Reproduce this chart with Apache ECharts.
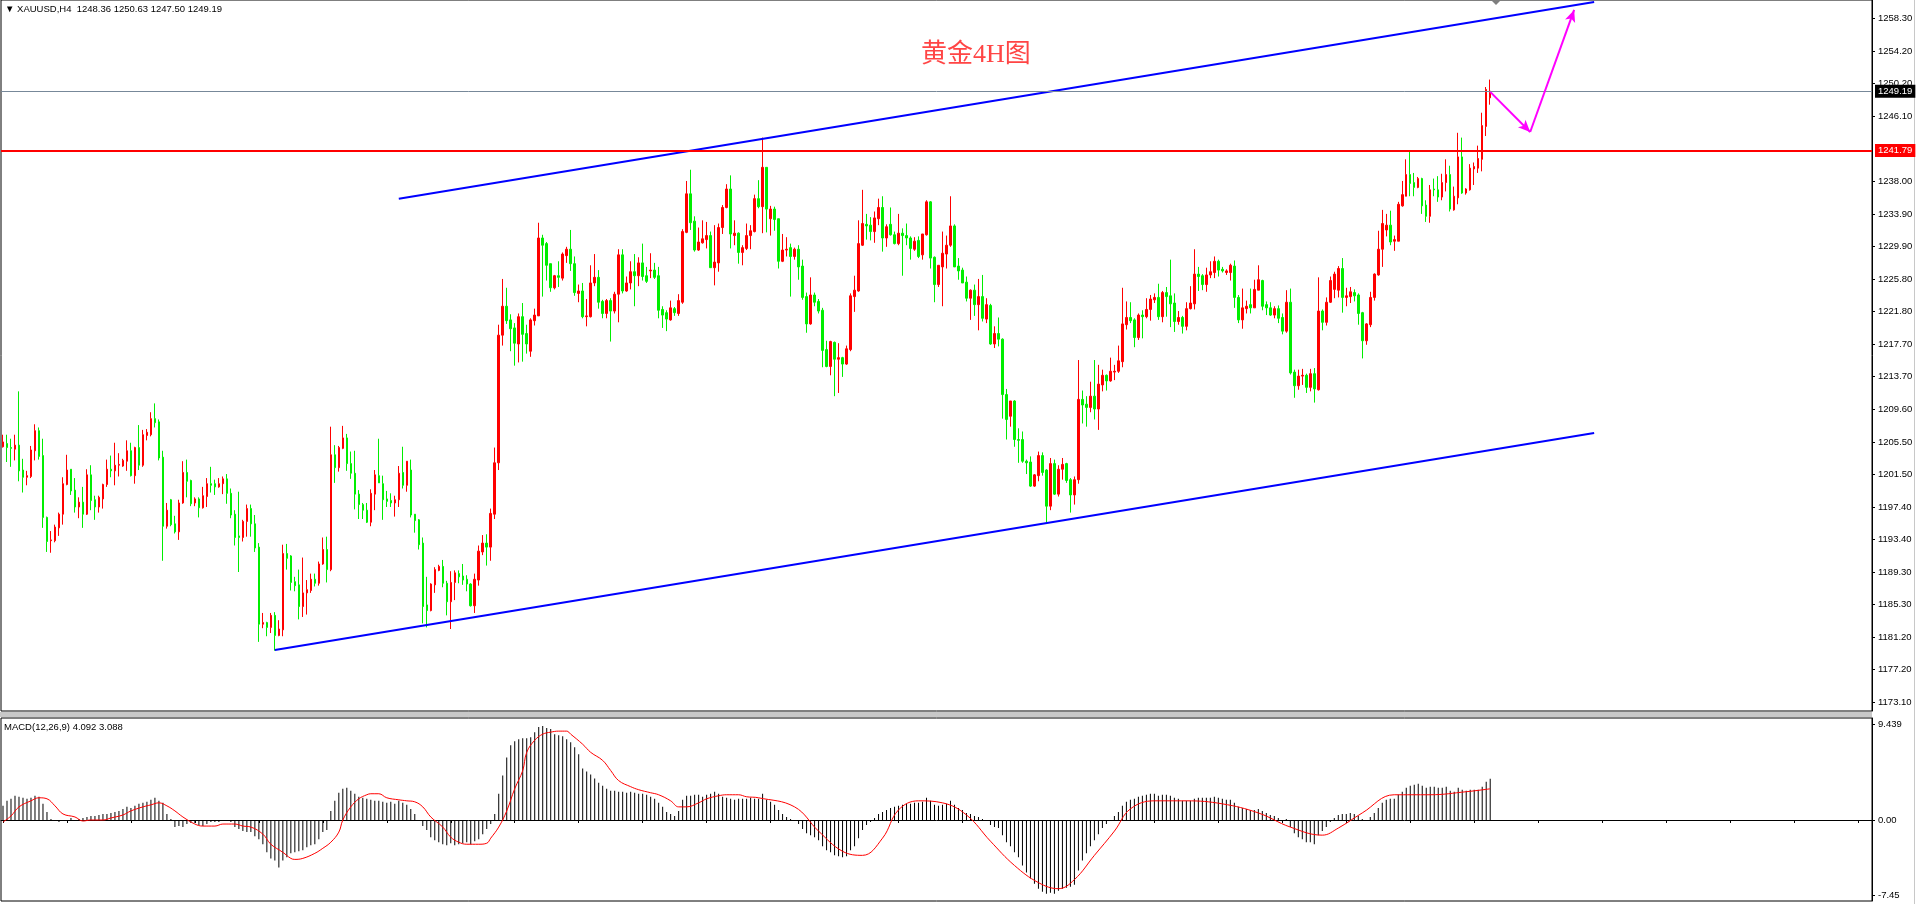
<!DOCTYPE html>
<html lang="zh">
<head>
<meta charset="UTF-8">
<title>黄金4H图</title>
<script src="https://cdn.jsdelivr.net/npm/echarts@6/dist/echarts.min.js"></script>
<style>
    html, body { margin: 0; padding: 0; background: #fff; }
    #main { width: 1917px; height: 904px; }
</style>
</head>
<body>
<div id="main"></div>
<script>
// XAUUSD H4 K线，每根 [开, 收, 低, 高]
var candles = [
[1204.9,1205.5,1204.8,1206.4],[1205.3,1204.8,1203.0,1206.4],[1204.8,1204.7,1202.4,1205.9],[1204.6,1205.1,1203.2,1206.4],[1205.1,1201.9,1200.6,1211.8],
[1202.0,1201.1,1199.2,1203.4],[1201.1,1201.3,1200.1,1201.9],[1201.2,1204.5,1201.0,1205.0],[1204.4,1206.9,1203.2,1207.7],[1206.9,1203.7,1203.3,1207.3],
[1203.8,1196.1,1194.8,1205.9],[1196.1,1193.1,1191.8,1196.2],[1193.2,1193.3,1191.7,1194.4],[1193.2,1194.9,1193.0,1195.2],[1194.8,1196.5,1193.8,1196.7],
[1196.5,1200.3,1195.2,1201.1],[1200.2,1202.0,1200.1,1203.9],[1202.1,1199.4,1198.9,1202.1],[1199.5,1197.4,1196.7,1201.0],[1197.4,1198.0,1196.0,1198.6],
[1198.0,1196.5,1194.8,1199.9],[1196.5,1201.4,1196.4,1202.1],[1201.4,1198.2,1197.0,1202.6],[1198.3,1197.4,1195.8,1198.8],[1197.4,1198.6,1196.7,1198.8],
[1198.4,1200.2,1197.2,1200.3],[1200.2,1202.1,1199.9,1203.3],[1202.1,1201.9,1201.1,1203.8],[1201.9,1202.6,1200.1,1205.4],[1202.6,1202.7,1201.2,1204.1],
[1202.5,1203.2,1202.4,1203.4],[1203.1,1204.4,1201.9,1205.7],[1204.4,1201.3,1201.2,1205.4],[1201.3,1204.8,1200.3,1204.9],[1204.8,1202.6,1202.0,1207.6],
[1202.6,1206.4,1202.4,1207.0],[1206.3,1206.7,1205.7,1207.1],[1206.4,1208.4,1206.2,1209.2],[1208.4,1207.9,1207.3,1210.3],[1208.0,1203.5,1203.2,1208.3],
[1203.6,1195.0,1190.7,1204.4],[1195.0,1197.0,1194.7,1197.9],[1198.3,1195.2,1195.0,1198.4],[1195.3,1194.3,1194.1,1196.3],[1194.3,1197.9,1193.3,1198.3],
[1197.9,1201.7,1197.8,1203.1],[1201.7,1200.6,1198.6,1203.3],[1200.7,1197.8,1197.5,1200.8],[1197.9,1198.4,1197.5,1198.6],[1198.4,1197.3,1196.1,1198.6],
[1197.3,1198.8,1197.2,1199.9],[1198.7,1200.3,1197.4,1201.0],[1200.3,1200.1,1199.2,1202.4],[1200.3,1199.9,1198.9,1200.8],[1199.9,1200.3,1199.8,1201.0],
[1200.3,1200.9,1199.0,1201.2],[1200.9,1199.1,1197.8,1201.5],[1199.1,1196.4,1196.0,1199.7],[1196.5,1193.6,1192.6,1197.0],[1193.8,1193.6,1189.3,1199.3],
[1193.6,1195.6,1193.1,1195.8],[1195.6,1197.2,1193.7,1197.7],[1197.2,1195.3,1193.7,1197.7],[1195.3,1192.3,1191.8,1196.4],[1192.4,1182.8,1180.6,1192.9],
[1182.8,1183.0,1182.3,1184.2],[1183.0,1182.4,1181.3,1183.1],[1182.4,1183.9,1181.7,1184.2],[1183.9,1181.4,1179.5,1184.3],[1181.4,1182.2,1181.3,1183.3],
[1182.1,1191.6,1181.3,1192.7],[1191.6,1191.0,1189.6,1192.8],[1191.3,1188.0,1187.0,1191.4],[1188.1,1187.6,1186.9,1188.7],[1187.7,1185.0,1183.4,1189.6],
[1185.0,1186.7,1183.7,1191.1],[1186.7,1187.1,1184.0,1188.3],[1187.0,1188.4,1186.7,1189.1],[1188.4,1187.9,1187.5,1189.1],[1187.9,1190.3,1187.6,1190.6],
[1190.3,1192.1,1190.2,1193.6],[1192.1,1189.6,1188.0,1193.7],[1189.6,1203.9,1189.4,1207.4],[1203.9,1202.3,1200.4,1205.1],[1202.3,1204.8,1201.8,1205.0],
[1204.7,1206.0,1204.6,1207.5],[1206.0,1202.8,1201.9,1206.5],[1202.8,1201.6,1200.9,1204.3],[1201.6,1199.0,1197.1,1204.4],[1199.0,1197.7,1195.9,1199.5],
[1197.7,1197.0,1195.9,1197.9],[1197.0,1195.5,1195.4,1197.9],[1195.5,1199.1,1195.0,1199.6],[1199.0,1201.4,1197.0,1202.0],[1201.3,1200.4,1200.4,1205.9],
[1200.3,1198.3,1195.8,1201.3],[1198.4,1198.1,1197.4,1199.4],[1198.2,1197.9,1197.4,1199.1],[1197.9,1198.3,1196.2,1198.8],[1198.3,1201.6,1197.4,1202.5],
[1201.7,1200.1,1199.7,1204.9],[1200.1,1203.1,1199.3,1203.1],[1202.0,1196.4,1196.1,1203.3],[1196.5,1195.7,1194.2,1196.5],[1195.8,1192.7,1192.1,1195.9],
[1192.9,1185.0,1182.9,1193.6],[1185.2,1184.5,1182.4,1188.7],[1184.5,1187.8,1184.4,1187.9],[1187.7,1189.6,1186.7,1189.9],[1189.5,1190.0,1189.4,1190.2],
[1190.0,1187.9,1187.4,1190.8],[1187.9,1185.6,1183.9,1188.2],[1185.6,1188.0,1182.2,1189.4],[1188.0,1189.2,1185.8,1189.5],[1189.1,1188.7,1187.9,1189.5],
[1188.8,1188.3,1187.7,1190.3],[1188.4,1187.8,1186.9,1188.9],[1187.8,1185.1,1185.0,1187.9],[1185.1,1188.4,1184.2,1189.1],[1188.3,1191.9,1187.6,1192.6],
[1191.8,1192.9,1191.4,1193.9],[1192.9,1192.4,1190.1,1194.0],[1192.4,1196.6,1190.7,1197.2],[1196.5,1202.9,1195.9,1204.8],[1202.9,1218.8,1202.0,1220.1],
[1218.8,1222.4,1217.5,1225.8],[1222.4,1220.6,1220.2,1224.7],[1220.7,1219.6,1216.8,1221.4],[1219.7,1217.8,1215.0,1220.3],[1217.7,1221.1,1215.4,1221.5],
[1221.1,1218.9,1215.5,1222.8],[1219.0,1217.7,1216.5,1220.1],[1216.8,1220.7,1216.1,1220.9],[1220.6,1221.3,1220.0,1222.1],[1221.2,1230.9,1221.2,1232.8],
[1230.9,1230.0,1223.6,1231.3],[1230.2,1227.5,1225.6,1230.4],[1227.7,1224.7,1224.2,1227.7],[1224.7,1226.2,1224.5,1226.3],[1226.2,1226.0,1224.8,1228.0],
[1225.9,1228.9,1225.6,1229.1],[1228.7,1229.5,1227.8,1229.8],[1229.5,1227.7,1226.8,1231.9],[1227.7,1224.1,1223.7,1228.6],[1224.0,1224.3,1222.9,1225.1],
[1224.3,1221.1,1220.9,1225.3],[1221.1,1221.2,1219.9,1223.3],[1221.1,1225.3,1221.0,1227.5],[1225.3,1226.0,1224.9,1228.9],[1226.0,1222.9,1222.1,1226.9],
[1223.0,1221.5,1220.9,1223.2],[1221.5,1223.1,1220.9,1223.3],[1223.1,1221.8,1218.0,1223.4],[1221.8,1223.9,1221.5,1224.2],[1223.9,1228.8,1220.4,1229.5],
[1228.8,1224.3,1224.0,1229.5],[1224.3,1225.3,1224.2,1226.1],[1225.3,1226.7,1224.5,1228.0],[1226.7,1226.2,1222.4,1228.9],[1226.2,1227.8,1224.9,1228.5],
[1227.8,1226.1,1225.6,1230.2],[1226.2,1225.5,1225.3,1227.3],[1226.8,1226.9,1225.9,1229.0],[1226.9,1226.0,1225.8,1227.8],[1226.2,1221.9,1220.9,1227.3],
[1222.0,1221.3,1219.7,1222.4],[1221.6,1220.8,1219.3,1221.9],[1220.7,1222.2,1220.6,1223.1],[1222.1,1221.6,1221.2,1222.3],[1221.5,1223.1,1221.2,1223.9],
[1222.9,1231.7,1222.7,1232.0],[1231.6,1236.4,1231.5,1238.0],[1236.4,1232.8,1231.9,1239.4],[1233.0,1229.4,1229.2,1233.6],[1229.4,1230.4,1229.3,1232.2],
[1230.3,1230.8,1230.2,1233.1],[1230.7,1231.2,1229.6,1232.9],[1231.2,1227.2,1227.2,1231.7],[1227.2,1227.9,1225.0,1232.5],[1227.8,1232.2,1226.7,1232.7],
[1232.2,1234.7,1231.4,1235.0],[1234.7,1237.0,1234.6,1237.6],[1237.0,1231.4,1229.6,1238.7],[1231.2,1231.5,1230.0,1233.1],[1231.5,1229.1,1227.7,1231.6],
[1229.1,1229.7,1227.5,1230.0],[1229.6,1231.2,1229.4,1232.7],[1231.2,1231.8,1229.5,1232.5],[1231.7,1235.8,1231.6,1236.3],[1235.8,1234.8,1234.6,1238.1],
[1234.8,1239.7,1231.5,1243.4],[1239.7,1234.5,1231.6,1239.7],[1233.3,1234.5,1231.2,1234.9],[1234.5,1233.2,1231.8,1234.8],[1233.3,1228.0,1227.1,1233.3],
[1228.0,1229.4,1227.9,1231.4],[1229.4,1229.5,1228.6,1231.0],[1229.7,1228.6,1223.6,1230.2],[1228.6,1229.5,1228.2,1229.7],[1229.5,1227.3,1225.7,1230.0],
[1227.4,1223.5,1223.2,1228.2],[1223.6,1220.2,1219.1,1224.1],[1220.2,1223.8,1220.1,1226.0],[1223.8,1222.9,1222.4,1224.1],[1223.0,1221.8,1221.5,1223.3],
[1221.9,1216.9,1214.8,1222.2],[1217.0,1214.9,1214.8,1218.1],[1214.9,1218.0,1213.8,1218.1],[1217.9,1215.8,1211.2,1218.0],[1215.8,1216.0,1211.6,1217.8],
[1216.0,1215.2,1213.6,1216.1],[1215.2,1217.1,1215.1,1217.5],[1217.0,1223.7,1216.8,1224.0],[1223.6,1224.4,1221.7,1226.2],[1224.3,1230.2,1224.2,1233.1],
[1230.0,1232.7,1229.9,1236.9],[1232.6,1232.4,1230.7,1233.9],[1232.5,1231.7,1230.6,1233.5],[1231.7,1233.4,1230.3,1234.2],[1233.3,1234.7,1232.5,1235.8],
[1234.7,1230.9,1229.2,1236.1],[1230.9,1232.3,1229.8,1232.6],[1232.6,1231.3,1231.2,1234.7],[1231.3,1230.2,1230.1,1231.7],[1230.2,1231.5,1230.0,1233.9],
[1231.5,1231.2,1226.2,1232.1],[1231.2,1230.9,1230.0,1232.7],[1230.9,1229.6,1228.2,1231.1],[1229.5,1230.5,1229.3,1231.0],[1230.6,1228.6,1228.4,1231.1],
[1228.8,1231.4,1228.2,1231.4],[1231.3,1235.4,1231.2,1235.6],[1235.4,1228.4,1227.1,1235.5],[1228.5,1225.1,1222.9,1228.6],[1225.1,1227.5,1224.8,1227.5],
[1227.3,1229.0,1222.4,1231.7],[1228.9,1230.0,1227.1,1231.2],[1230.0,1232.4,1229.8,1236.1],[1232.4,1227.3,1227.3,1232.6],[1227.4,1226.8,1225.7,1228.4],
[1226.9,1225.3,1225.3,1227.2],[1225.4,1223.4,1223.0,1226.1],[1223.4,1224.4,1220.7,1224.5],[1224.4,1222.6,1221.2,1225.1],[1222.6,1223.6,1219.4,1225.8],
[1223.6,1220.9,1220.5,1226.3],[1220.8,1222.6,1220.3,1223.4],[1222.5,1217.7,1217.6,1222.7],[1217.7,1219.0,1217.2,1219.9],[1219.0,1218.3,1217.4,1221.0],
[1218.3,1211.4,1208.4,1218.4],[1211.4,1208.3,1205.8,1212.1],[1208.7,1210.6,1207.4,1210.6],[1210.6,1205.8,1204.9,1210.7],[1205.8,1205.7,1202.9,1207.2],
[1205.8,1203.1,1202.9,1206.8],[1203.1,1202.9,1201.5,1203.3],[1203.0,1200.0,1199.9,1203.7],[1200.0,1201.4,1199.9,1201.5],[1201.3,1203.8,1200.6,1204.3],
[1203.8,1201.7,1201.3,1204.2],[1202.0,1197.5,1195.4,1202.1],[1197.5,1202.8,1197.0,1203.5],[1202.8,1199.0,1198.9,1203.3],[1199.0,1202.1,1198.7,1202.6],
[1202.1,1202.7,1200.8,1203.5],[1202.8,1200.7,1200.4,1202.9],[1200.8,1198.9,1196.7,1201.0],[1198.9,1200.8,1197.7,1201.2],[1200.8,1210.8,1200.3,1215.7],
[1210.8,1210.1,1207.8,1211.9],[1210.2,1209.8,1207.4,1211.2],[1209.8,1211.2,1209.2,1213.0],[1211.2,1209.6,1208.3,1215.7],[1209.6,1212.7,1207.0,1215.1],
[1212.6,1213.8,1211.8,1214.5],[1213.8,1213.1,1211.9,1213.9],[1213.1,1214.3,1213.0,1216.0],[1214.2,1214.3,1213.2,1215.1],[1214.3,1215.6,1214.1,1217.5],
[1215.5,1220.2,1214.8,1224.7],[1220.1,1221.0,1219.5,1223.0],[1221.0,1220.6,1220.3,1222.9],[1220.7,1218.5,1217.3,1220.9],[1218.5,1221.3,1218.2,1221.5],
[1221.3,1221.1,1218.4,1221.9],[1221.1,1222.0,1220.9,1223.4],[1222.0,1223.3,1220.6,1223.8],[1223.2,1223.5,1222.8,1224.0],[1223.5,1221.1,1220.7,1225.2],
[1221.1,1224.1,1220.4,1224.3],[1224.1,1223.6,1221.1,1224.8],[1223.7,1222.7,1219.8,1228.2],[1222.8,1220.5,1219.2,1224.0],[1220.5,1221.0,1220.1,1221.8],
[1221.0,1219.9,1219.0,1221.2],[1219.9,1222.1,1219.4,1222.9],[1222.1,1222.8,1222.0,1224.9],[1222.7,1226.4,1222.0,1229.5],[1226.4,1226.1,1224.3,1227.3],
[1226.2,1225.1,1224.4,1226.4],[1225.1,1226.3,1224.2,1227.2],[1226.3,1226.7,1225.9,1228.0],[1226.6,1228.0,1225.9,1228.6],[1228.0,1226.9,1226.1,1228.2],
[1227.0,1226.8,1226.6,1227.3],[1226.6,1226.8,1226.3,1227.0],[1226.6,1227.5,1225.6,1227.7],[1227.4,1223.5,1222.2,1228.1],[1223.5,1220.7,1220.3,1223.8],
[1220.7,1222.2,1219.6,1224.6],[1222.1,1222.4,1221.5,1223.1],[1222.6,1222.2,1221.5,1224.6],[1222.2,1224.5,1222.2,1225.7],[1224.4,1225.7,1224.4,1227.5],
[1225.6,1222.4,1221.9,1225.7],[1222.6,1222.2,1221.3,1223.0],[1222.2,1221.3,1221.2,1222.9],[1221.3,1222.1,1220.9,1222.4],[1222.1,1220.9,1220.3,1222.5],
[1221.0,1219.3,1218.9,1221.5],[1219.3,1222.9,1219.1,1224.4],[1222.9,1214.1,1213.9,1224.6],[1214.2,1212.5,1211.0,1214.5],[1212.5,1213.7,1212.0,1214.5],
[1213.7,1213.8,1212.6,1214.6],[1213.8,1212.3,1211.6,1214.0],[1212.3,1214.0,1211.8,1214.6],[1214.0,1212.1,1210.4,1214.7],[1212.0,1221.8,1211.9,1226.0],
[1221.8,1220.4,1219.4,1222.0],[1220.4,1222.9,1220.0,1223.5],[1222.9,1225.6,1222.8,1226.1],[1224.5,1226.4,1223.4,1226.7],[1224.4,1227.1,1223.5,1227.4],
[1227.1,1223.5,1221.6,1228.4],[1223.5,1223.7,1222.4,1224.7],[1223.6,1224.2,1222.8,1224.8],[1224.1,1223.7,1223.0,1224.5],[1223.8,1221.5,1220.1,1224.0],
[1221.6,1218.1,1215.9,1221.7],[1218.1,1220.2,1217.6,1220.3],[1220.1,1223.5,1219.8,1224.2],[1223.5,1226.4,1223.1,1226.5],[1226.3,1229.5,1226.2,1231.8],
[1229.5,1232.7,1227.3,1234.4],[1231.9,1232.5,1231.1,1233.9],[1232.5,1230.4,1230.0,1234.3],[1230.5,1230.7,1229.3,1231.2],[1230.5,1235.1,1230.5,1235.4],
[1234.9,1236.3,1234.8,1238.0],[1236.1,1238.8,1236.1,1240.7],[1238.8,1237.7,1236.1,1241.7],[1237.8,1237.2,1236.1,1239.0],[1237.2,1238.3,1237.1,1238.5],
[1238.3,1234.9,1233.9,1238.4],[1235.0,1233.6,1232.9,1235.6],[1233.6,1236.9,1232.8,1237.5],[1237.0,1236.9,1236.1,1238.3],[1236.9,1236.0,1235.4,1238.6],
[1236.0,1237.8,1235.6,1238.9],[1237.8,1238.8,1236.7,1240.7],[1238.8,1234.5,1234.2,1239.9],[1234.4,1236.1,1234.3,1237.3],[1235.9,1241.0,1235.1,1244.0],
[1241.0,1236.5,1236.4,1243.4],[1236.5,1237.0,1236.3,1237.1],[1236.9,1239.6,1236.8,1240.1],[1239.5,1239.8,1237.5,1240.3],[1239.6,1240.8,1239.0,1242.4],
[1240.7,1244.9,1239.2,1246.5],[1244.8,1249.4,1243.6,1249.7],[1248.36,1249.19,1247.50,1250.63]
];

// MACD(12,26,9) 柱（主线）
var macdBars = [
1.4,1.9,2.1,2.4,2.3,2.2,2.1,2.2,2.4,2.3, 1.6,0.8,0.1,-0.1,-0.2,-0.1,0.0,0.2,0.0,0.1,
0.2,0.3,0.4,0.4,0.5,0.6,0.6,0.7,0.8,0.9, 1.1,1.3,1.2,1.4,1.6,1.7,1.8,2.0,2.2,1.9,
1.7,0.6,0.1,-0.7,-0.6,-0.7,-0.4,-0.3,-0.3,-0.5, -0.6,-0.4,-0.2,-0.2,-0.2,-0.1,-0.1,-0.2,-0.7,-0.9,
-1.1,-1.2,-1.2,-1.6,-1.9,-2.4,-3.2,-3.8,-4.0,-4.7, -4.0,-3.7,-3.3,-3.2,-3.1,-3.0,-2.7,-2.5,-2.4,-1.9,
-1.2,-1.0,0.9,1.9,2.7,3.1,3.2,2.9,2.6,2.3, 2.2,2.1,2.0,1.9,1.9,1.8,1.7,1.8,1.6,1.9,
1.7,1.5,1.1,0.6,0.0,-0.6,-1.0,-1.7,-2.0,-2.2, -2.4,-2.5,-2.3,-2.5,-2.4,-2.3,-2.2,-2.4,-2.1,-1.9,
-1.4,-0.9,-0.4,0.6,2.6,4.4,6.2,7.4,7.8,8.0, 8.1,8.1,8.2,8.7,9.2,9.3,9.1,9.0,8.5,8.4,
8.3,8.0,7.7,7.2,6.5,5.1,4.8,4.5,4.1,3.7, 3.4,3.1,2.9,2.9,2.8,2.8,2.7,2.8,2.7,2.6,
2.6,2.5,2.3,2.1,1.7,1.3,0.8,0.6,0.4,0.9, 2.0,2.4,2.4,2.5,2.5,2.3,2.5,2.6,2.8,2.6,
2.3,2.2,2.1,2.0,2.1,2.1,2.1,2.2,2.1,2.1, 2.6,2.0,1.8,1.5,1.0,0.6,0.3,0.1,-0.1,-0.4,
-0.9,-1.3,-1.5,-1.7,-2.0,-2.6,-3.0,-3.2,-3.5,-3.6, -3.7,-3.6,-3.0,-2.6,-1.8,-1.0,-0.5,-0.2,0.2,0.6,
0.8,1.0,1.2,1.3,1.4,1.5,1.6,1.6,1.7,1.7, 1.8,2.2,1.9,1.5,1.4,1.5,1.6,1.9,1.5,1.2,
1.0,0.7,0.6,0.4,0.3,0.1,-0.1,-0.5,-0.7,-0.8, -1.5,-2.2,-2.6,-3.2,-3.7,-4.5,-5.2,-5.8,-6.3,-6.8,
-7.1,-7.3,-7.2,-7.3,-7.0,-6.8,-6.7,-6.6,-6.4,-5.0, -4.0,-3.3,-2.6,-2.0,-1.4,-0.8,-0.4,0.0,0.4,0.8,
1.4,1.8,2.0,2.1,2.3,2.4,2.5,2.6,2.6,2.4, 2.5,2.5,2.4,2.2,2.1,1.9,1.9,1.9,2.1,2.2,
2.2,2.2,2.2,2.3,2.2,2.1,2.0,2.0,1.7,1.3, 1.2,1.1,1.0,1.0,1.1,0.9,0.7,0.5,0.4,0.2,
0.0,0.1,-0.7,-1.3,-1.7,-1.9,-2.2,-2.2,-2.4,-1.5, -1.1,-0.7,-0.2,0.2,0.5,0.6,0.6,0.7,0.6,0.4,
0.1,0.0,0.3,0.7,1.2,1.7,2.0,2.1,2.1,2.5, 2.8,3.2,3.4,3.5,3.6,3.4,3.2,3.3,3.3,3.2,
3.2,3.3,2.9,2.8,3.2,3.0,2.9,3.0,3.0,3.0, 3.3,3.8,4.092
];

// 信号线 [K线序号, 值]
var signalPts = [
[0,-0.2],[2,0.4],[4,1.3],[7,1.9],[9,2.2],[11,2.1],[13,1.4],[15,0.6],[18,0.3],[20,-0.1],
[22,0.0],[25,0.0],[27,0.2],[30,0.5],[32,0.9],[35,1.3],[37,1.5],[39,1.7],[41,1.4],[43,0.9],
[45,0.3],[48,-0.4],[50,-0.6],[53,-0.6],[55,-0.4],[58,-0.4],[60,-0.6],[62,-0.7],[65,-1.4],[67,-2.4],
[70,-3.2],[72,-3.8],[73,-3.9],[75,-3.8],[78,-3.3],[80,-2.8],[82,-2.2],[84,-1.2],[85,0.0],[87,1.3],
[89,2.1],[91,2.5],[92,2.6],[94,2.6],[96,2.2],[99,2.0],[101,1.9],[103,1.8],[105,1.3],[107,0.3],
[110,-0.7],[112,-1.7],[114,-2.2],[116,-2.4],[119,-2.4],[121,-2.3],[122,-1.8],[124,-0.7],[126,0.9],[128,3.1],
[130,4.9],[131,6.7],[133,7.9],[135,8.5],[137,8.7],[139,8.8],[141,8.8],[142,8.5],[145,7.5],[147,6.7],
[150,5.9],[152,4.9],[154,3.9],[157,3.3],[159,3.0],[162,2.7],[164,2.5],[167,1.9],[169,1.3],[171,1.3],
[174,1.7],[176,2.1],[179,2.4],[181,2.5],[184,2.5],[186,2.3],[189,2.2],[198,1.3],[204,-1.1],[210,-3.1],
[215,-3.5],[220,-1.8],[224,1.0],[229,1.9],[235,1.7],[241,0.5],[247,-2.1],[253,-4.5],[259,-6.2],[264,-6.8],
[268,-5.9],[273,-3.5],[278,-1.1],[282,1.1],[288,1.9],[296,1.9],[305,1.6],[314,0.7],[322,-0.7],[330,-1.5],
[334,-0.8],[340,0.7],[348,2.5],[357,2.5],[366,2.8],[372,3.088]
];

var priceTicks = [1258.30,1254.20,1250.20,1246.10,1238.00,1233.90,1229.90,1225.80,1221.80,1217.70,
    1213.70,1209.60,1205.50,1201.50,1197.40,1193.40,1189.30,1185.30,1181.20,1177.20,1173.10];
var macdTicks = [9.439, 0, -7.45];
var macdTickText = ['9.439', '0.00', '-7.45'];

// 通道线、箭头（K线序号, 价格）
var upperChannel = [[99, 1235.8], [398, 1260.3]];
var lowerChannel = [[68, 1179.6], [398, 1206.6]];
var arrowPath = [[372, 1249.1], [382, 1244.1], [393, 1259.3]];
var lastPrice = 1249.19;
var resistance = 1241.79;

var slots = 468;   // 右侧留白，共 468 个位置
var cats = [];
for (var i = 0; i < slots; i++) cats.push(String(i));

var chart = echarts.init(document.getElementById('main'));

var labelFont = { fontFamily: 'Liberation Sans, Arial, sans-serif', fontSize: 9.5, color: '#000' };

var option = {
    backgroundColor: '#fff',
    animation: false,
    grid: [
        { left: 1, top: 0, width: 1871, height: 711, show: true, borderColor: '#000', borderWidth: 1, backgroundColor: '#fff' },
        { left: 1, top: 718, width: 1871, height: 183, show: true, borderColor: '#000', borderWidth: 1, backgroundColor: '#fff' }
    ],
    xAxis: [
        { type: 'category', gridIndex: 0, data: cats, boundaryGap: true,
          axisLine: { show: false }, axisTick: { show: false }, axisLabel: { show: false }, splitLine: { show: false } },
        { type: 'category', gridIndex: 1, data: cats, boundaryGap: true,
          axisLine: { show: true, lineStyle: { color: '#000' } },
          axisTick: { show: true, interval: 15, alignWithLabel: true, length: 3, lineStyle: { color: '#000' } },
          axisLabel: { show: false }, splitLine: { show: false } }
    ],
    yAxis: [
        { type: 'value', gridIndex: 0, position: 'right', min: 1171.99, max: 1260.54, scale: true,
          axisLine: { show: true, lineStyle: { color: '#000' } },
          axisTick: { show: true, length: 3, customValues: priceTicks, lineStyle: { color: '#000' } },
          axisLabel: Object.assign({ show: true, margin: 6, customValues: priceTicks,
              formatter: function (v) { return v.toFixed(2); } }, labelFont),
          splitLine: { show: false } },
        { type: 'value', gridIndex: 1, position: 'right', min: -8.02, max: 10.1,
          axisLine: { show: true, lineStyle: { color: '#000' } },
          axisTick: { show: true, length: 3, customValues: macdTicks, lineStyle: { color: '#000' } },
          axisLabel: Object.assign({ show: true, margin: 6, customValues: macdTicks,
              formatter: function (v) {
                  var k = macdTicks.indexOf(v);
                  return k >= 0 ? macdTickText[k] : '';
              } }, labelFont),
          splitLine: { show: false } }
    ],
    series: [
        {
            name: 'XAUUSD', type: 'candlestick', xAxisIndex: 0, yAxisIndex: 0,
            data: candles, barWidth: 2,
            itemStyle: {
                color: '#ff0000', color0: '#00ee00',
                borderColor: '#ff0000', borderColor0: '#00ee00',
                borderColorDoji: '#ff0000', borderWidth: 1
            },
            markLine: {
                silent: true, symbol: 'none', animation: false,
                data: [
                    { yAxis: lastPrice,
                      lineStyle: { color: '#778899', width: 1, type: 'solid' },
                      label: { show: true, position: 'end', distance: 3, formatter: lastPrice.toFixed(2),
                               backgroundColor: '#000', color: '#fff', padding: [2, 3, 1, 3],
                               fontFamily: 'Liberation Sans, Arial, sans-serif', fontSize: 9.5 } },
                    { yAxis: resistance,
                      lineStyle: { color: '#ff0000', width: 2, type: 'solid' },
                      label: { show: true, position: 'end', distance: 3, formatter: resistance.toFixed(2),
                               backgroundColor: '#ff0000', color: '#fff', padding: [2, 3, 1, 3],
                               fontFamily: 'Liberation Sans, Arial, sans-serif', fontSize: 9.5 } }
                ]
            },
            z: 3
        },
        {
            name: '上轨', type: 'line', xAxisIndex: 0, yAxisIndex: 0, data: upperChannel,
            symbol: 'none', lineStyle: { color: '#0000ff', width: 2 }, silent: true, z: 4
        },
        {
            name: '下轨', type: 'line', xAxisIndex: 0, yAxisIndex: 0, data: lowerChannel,
            symbol: 'none', lineStyle: { color: '#0000ff', width: 2 }, silent: true, z: 4
        },
        {
            name: '箭头', type: 'line', xAxisIndex: 0, yAxisIndex: 0, data: [],
            markLine: {
                silent: true, animation: false,
                symbol: ['none', 'arrow'], symbolSize: [8, 12],
                lineStyle: { color: '#ff00ff', width: 2, type: 'solid' },
                label: { show: false },
                data: [
                    [{ coord: arrowPath[0] }, { coord: arrowPath[1] }],
                    [{ coord: arrowPath[1] }, { coord: arrowPath[2] }]
                ]
            },
            z: 5
        },
        {
            name: 'MACD', type: 'bar', xAxisIndex: 1, yAxisIndex: 1, data: macdBars,
            barWidth: 1, itemStyle: { color: '#000' }, silent: true
        },
        {
            name: 'Signal', type: 'line', xAxisIndex: 1, yAxisIndex: 1, data: signalPts,
            smooth: 0.4, symbol: 'none', lineStyle: { color: '#ff0000', width: 1 }, silent: true, z: 4
        }
    ],
    graphic: [
        { type: 'rect', left: 0, top: 712, shape: { width: 1872, height: 5 }, style: { fill: '#c8c8c8' }, silent: true },
        { type: 'rect', left: 1914, top: 0, shape: { width: 1, height: 904 }, style: { fill: '#c8c8c8' }, silent: true },
        { type: 'text', left: 5, top: 4, style: { text: '\u25BC XAUUSD,H4  1248.36 1250.63 1247.50 1249.19',
            fontFamily: 'Liberation Sans, Arial, sans-serif', fontSize: 9.5, fill: '#000' } },
        { type: 'text', left: 4, top: 722, style: { text: 'MACD(12,26,9) 4.092 3.088',
            fontFamily: 'Liberation Sans, Arial, sans-serif', fontSize: 9.5, fill: '#000' } },
        { type: 'text', left: 921, top: 42, style: { text: '黄金4H图',
            fontFamily: 'Liberation Serif, Noto Sans CJK SC, serif', fontSize: 26, fill: '#ff4545' } },
        { type: 'polygon', shape: { points: [[1491, 0], [1501, 0], [1496, 5]] }, style: { fill: '#7f7f7f' } }
    ]
};

chart.setOption(option);
</script>
</body>
</html>
